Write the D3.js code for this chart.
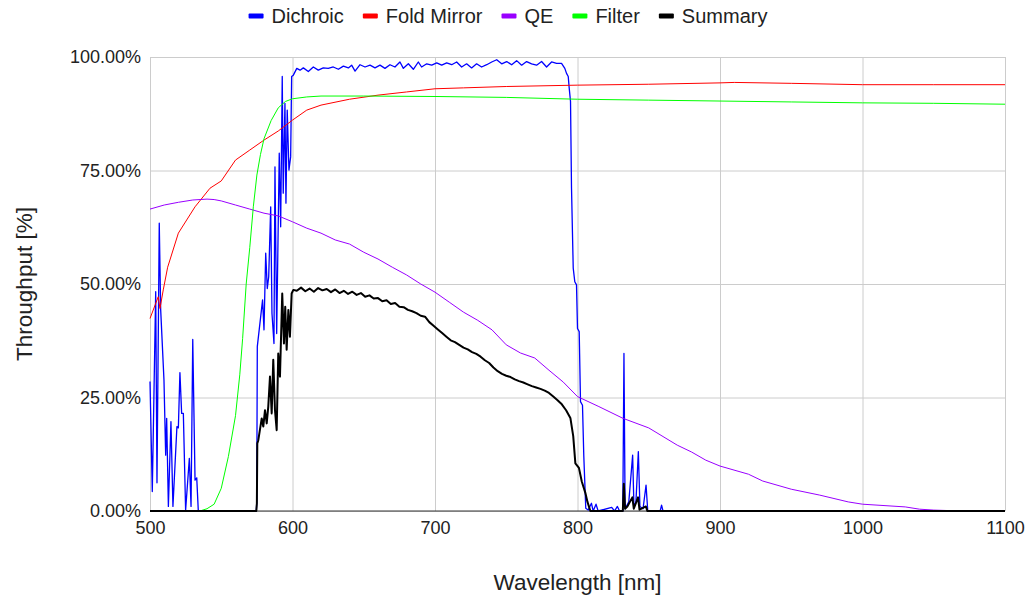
<!DOCTYPE html>
<html lang="en">
<head>
<meta charset="UTF-8">
<title>Throughput</title>
<style>
  body { margin: 0; background: #fff; }
  svg { display: block; font-family: "Liberation Sans", Arial, sans-serif; }
</style>
</head>
<body>
<svg id="chart" width="1028" height="597"></svg>
<script src="https://cdnjs.cloudflare.com/ajax/libs/d3/7.8.5/d3.min.js"></script>
<script>
// series: [wavelength nm, throughput %]
let dichroic = [
  [500,28.5],[501.6,4.3],[504,48.3],[504.9,6.2],[506.5,63.4],[507.5,44.3],[509.8,28.9],[511,12.3],
  [511.7,20.4],[512.9,1],[514.7,19.7],[516.1,1],[518.9,18.6],[519.9,18.3],[521,30.5],[522.2,21.5],
  [523.4,21.5],[525,0.2],[527.6,11.6],[528.8,1],[530,37.8],[531.6,6.8],[532.8,7.3],[533.9,0],
  [574.6,0],[574.9,1.8],[575.3,36.2],[579,46.5],[580,39.9],[581.2,56.8],[582.3,49],[583.3,51.6],
  [584.7,67],[585.6,43.5],[587,36.9],[587.7,75.8],[588.9,39.1],[590.7,78.8],[591.7,62.6],[592.8,95.7],
  [593.5,70],[594.7,89.8],[595.4,67.8],[596.3,88.3],[597.5,75.1],[598.7,78],[599.4,95.7],
  [600.6,96],[603,97.5],[605.3,97.1],[607.6,97.6],[611.1,96.8],[614.6,97.8],[618.1,97.1],[621.6,97.6],
  [625.1,97.5],[628.6,97.8],[632.2,97.3],[635.7,98],[639.2,97.6],[641.5,98.2],[643.9,96.9],[647.4,98.3],
  [650.9,97.8],[654.4,98.2],[657.9,97.6],[661.4,98.2],[664.9,97.5],[668.4,98.3],[671.9,97.8],[675.4,98.9],
  [677.8,97.5],[681.3,98.5],[684.8,97.3],[688.3,98.9],[690.6,97.8],[694.2,98.5],[697.7,98.2],[701.2,98.7],
  [704.7,98.2],[708.2,98.7],[711.7,98.3],[715.2,98.9],[718.7,97.8],[722.2,98.5],[725.7,97.6],[729.2,98.5],
  [732.7,97.8],[736.3,98.3],[739.8,98.9],[743.3,99.4],[746.8,98.5],[750.3,99],[753.8,98.3],[757.3,99.2],
  [760.8,98.2],[764.3,99],[767.8,98.5],[771.3,98.2],[774.8,99],[778.3,97.8],[781.8,98.9],[785.3,98.6],
  [788.8,98.6],[791.1,97.5],[792.3,96.4],[793.5,95.7],[794.2,93.1],[795.1,90.2],[795.8,71.1],[797,53.5],
  [798.1,50.5],[799.3,49.8],[800,40.2],[801.2,39.5],[802.1,24.1],[803.5,23.3],[804.4,12.3],[805.8,0.6],
  [807.5,0.2],[809.8,1.7],[811,0],[813,1.5],[814.5,0],[824,0.8],[826,0],[828,1],[829.5,0],[831.8,0],
  [832.6,34.7],[833.4,0.5],[836,2],[838.7,12.3],[839.6,1],[841,2],[842.7,13.1],[843.8,1],[846,0.5],
  [848.1,5.7],[849.3,0],[858,0],[859,1.3],[860,0],[1100,0]
];

let foldMirror = [
  [500,42.4],[505.8,47.2],[507,44.6],[509.3,48.7],[512.4,53.7],[519.9,61.2],[531.6,67],[542.1,71.1],
  [550,72.7],[560,77.3],[570,79.5],[580,81.7],[590,83.7],[600,86.1],[610,88.3],[620,89.4],[640,90.7],
  [660,91.6],[680,92.3],[700,93],[720,93.2],[750,93.5],[800,93.8],[850,94],[900,94.3],[910,94.4],
  [950,94.2],[1000,93.9],[1050,93.9],[1100,93.9]
];

let qe = [
  [500,66.5],[510,67.4],[520,68],[530,68.5],[540,68.7],[545,68.6],[550,68.3],[560,67.4],[570,66.5],
  [580,65.6],[590,65],[600,63.7],[610,62.3],[620,61.2],[630,59.7],[640,58.8],[650,57],[660,55.5],
  [670,53.7],[680,52],[690,50],[700,48.2],[710,46],[720,43.8],[730,42],[740,39.9],[750,36.6],
  [760,34.8],[770,33.7],[780,31],[790,28.4],[800,25.2],[815,23],[832,20.4],[850,18.3],[870,14.5],
  [880,13],[890,11.2],[900,9.9],[920,8.1],[930,6.6],[950,4.8],[970,3.5],[990,2],[1000,1.5],
  [1020,1.1],[1030,0.9],[1040,0.4],[1050,0.2],[1070,0],[1100,0]
];

let filter = [
  [500,0],[535,0],[540,0.5],[545,1.5],[550,5],[555,12],[560,21],[563,30],[565,38],[567.5,50],
  [570,58],[572.5,67],[575,74],[577.5,78.5],[580,82],[585,86],[590,88.8],[595,90.2],[600,90.8],
  [610,91.2],[620,91.4],[650,91.4],[700,91.3],[750,91.1],[800,90.7],[850,90.5],[900,90.3],
  [950,90.1],[1000,89.9],[1050,89.8],[1100,89.6]
];

let summary = [
  [500,0],[574.6,0],[575,1.7],[575.3,14.9],[576,15.6],[578.4,20.4],[579.5,18.6],[580.7,22.2],
  [581.9,19.3],[583,23],[584.2,29.6],[585.4,21.5],[586.5,33.3],[587.7,22.2],[588.9,17.8],[590,34.7],
  [591.2,29.6],[592.8,47.9],[594,36.9],[594.9,45],[595.9,35.5],[597.1,44.3],[598.2,38.4],[599.4,47.9],
  [600.6,48.7],[603,48.5],[606,49.2],[609,48.4],[612,49],[615,48.3],[618,49.1],[621,48.6],[624,48.9],
  [627,48.2],[630,48.8],[633,48],[636,48.5],[639,47.8],[642,48.3],[645,47.6],[648,48],[651,47.2],
  [654,47.5],[657,46.8],[660,46.9],[663,46.2],[666,46.4],[669,45.6],[672,45.8],[675,45],[678,44.9],
  [681,44.3],[684,44],[687,43.6],[690,43],[693,42.8],[696,41.6],[699,40.8],[702,40],[705,39.2],
  [708,38.4],[711,37.6],[714,37.2],[717,36.6],[720,36],[723,35.6],[726,35],[729,34.6],[732,34],
  [735,33.2],[738,32.6],[741,31.6],[744,30.8],[747,30.2],[750,29.8],[753,29.5],[756,29],[759,28.6],
  [762,28.3],[765,27.9],[768,27.5],[771,27.2],[774,26.9],[777,26.5],[780,26],[783,25.2],[786,24.4],
  [789,23.5],[792,22.2],[795,20.5],[797,16.5],[798.5,10.5],[801,9.5],[803,6.5],[805.5,4],[807,2],
  [809,0],[831.8,0],[832.5,6],[833.4,0.5],[835,1],[838.5,3],[839.5,0.5],[842.5,3],[843.5,0.3],
  [848,1],[849,0],[1100,0]
];

let seriesNames = ["Dichroic", "Fold Mirror", "QE", "Filter", "Summary"];
let seriesColors = ["#0000ff", "#ff0000", "#9900ff", "#00ff00", "#000000"];
let xTicks = [500, 600, 700, 800, 900, 1000, 1100];
let yTicks = [0, 0.25, 0.5, 0.75, 1];

let allSeries = [dichroic, foldMirror, qe, filter, summary];
let widths = [1.3, 1, 1, 1, 2];

let margin = {top: 57, right: 23, bottom: 86, left: 150};
let width = 1028, height = 597;

let svg = d3.select("#chart");

let x = d3.scaleLinear().domain([500, 1100]).range([margin.left, width - margin.right]);
let y = d3.scaleLinear().domain([0, 1]).range([height - margin.bottom, margin.top]);

// grid
svg.append("g")
  .attr("transform", "translate(0," + (height - margin.bottom) + ")")
  .call(d3.axisBottom(x).tickValues(xTicks).tickSize(-(height - margin.bottom - margin.top)).tickFormat(d3.format("d")).tickPadding(10))
  .call(g => g.select(".domain").remove())
  .call(g => g.selectAll("line").attr("stroke", "#cccccc"))
  .call(g => g.selectAll("text").attr("fill", "#222").style("font-size", "18px"));

svg.append("g")
  .attr("transform", "translate(" + margin.left + ",0)")
  .call(d3.axisLeft(y).tickValues(yTicks).tickSize(-(width - margin.left - margin.right)).tickFormat(d3.format(".2%")).tickPadding(9))
  .call(g => g.select(".domain").remove())
  .call(g => g.selectAll("line").attr("stroke", "#cccccc"))
  .call(g => g.selectAll("text").attr("fill", "#222").style("font-size", "18px"));

// baseline
svg.append("line")
  .attr("x1", x(500)).attr("x2", x(1100))
  .attr("y1", y(0)).attr("y2", y(0))
  .attr("stroke", "#333").attr("stroke-width", 1);

let line = d3.line()
  .x(d => x(d[0]))
  .y(d => y(d[1] / 100));

allSeries.forEach((s, i) => {
  svg.append("path")
    .datum(s)
    .attr("fill", "none")
    .attr("stroke", seriesColors[i])
    .attr("stroke-width", widths[i])
    .attr("stroke-linejoin", "round")
    .attr("d", line);
});

// axis titles
svg.append("text")
  .attr("x", (margin.left + width - margin.right) / 2)
  .attr("y", 590)
  .attr("text-anchor", "middle")
  .attr("fill", "#222")
  .style("font-size", "22.5px")
  .text("Wavelength [nm]");

svg.append("text")
  .attr("transform", "translate(32," + ((margin.top + height - margin.bottom) / 2) + ") rotate(-90)")
  .attr("text-anchor", "middle")
  .attr("fill", "#222")
  .style("font-size", "22.5px")
  .text("Throughput [%]");

// legend
let legend = svg.append("g");
let lx = 0;
seriesNames.forEach((name, i) => {
  let item = legend.append("g").attr("transform", "translate(" + lx + ",0)");
  item.append("rect")
    .attr("x", 0).attr("y", -2.5)
    .attr("width", 15).attr("height", 5)
    .attr("rx", 1)
    .attr("fill", seriesColors[i]);
  let t = item.append("text")
    .attr("x", 23).attr("y", 7)
    .attr("fill", "#222")
    .style("font-size", "20px")
    .text(name);
  lx += 23 + t.node().getComputedTextLength() + 19;
});
lx -= 19;
legend.attr("transform", "translate(" + (508 - lx / 2) + ",16)");
</script>
</body>
</html>
